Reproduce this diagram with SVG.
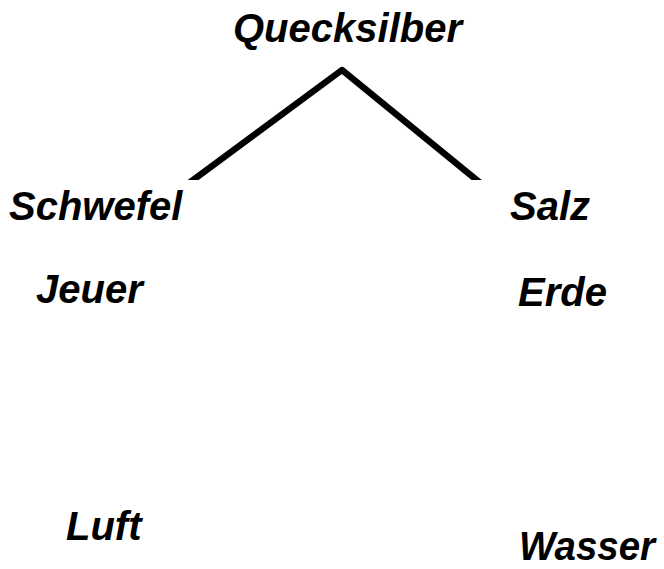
<svg xmlns="http://www.w3.org/2000/svg" width="664" height="569" viewBox="0 0 664 569">
<style>
.t{font-family:"Liberation Sans",Arial,sans-serif;font-weight:bold;font-style:italic;font-size:40px;fill:#000}
.c{fill:none;stroke:#000;stroke-width:6.5;stroke-linejoin:round}
</style>
<defs><clipPath id="cl"><rect x="0" y="0" width="664" height="180"/></clipPath></defs>
<rect width="664" height="569" fill="#fff"/>
<g id="connectors" clip-path="url(#cl)">
<polyline class="c" points="185,186 342,70 484,186"/>
</g>
<g id="quecksilber"><text class="t" x="233" y="42">Quecksilber</text></g>
<g id="schwefel"><text class="t" x="9" y="220">Schwefel</text></g>
<g id="salz"><text class="t" x="510" y="220">Salz</text></g>
<g id="jeuer"><text class="t" x="36" y="303">Jeuer</text></g>
<g id="erde"><text class="t" x="518" y="306">Erde</text></g>
<g id="luft"><text class="t" x="66" y="540">Luft</text></g>
<g id="wasser"><text class="t" x="519" y="560" textLength="136" lengthAdjust="spacingAndGlyphs">Wasser</text></g>
</svg>
